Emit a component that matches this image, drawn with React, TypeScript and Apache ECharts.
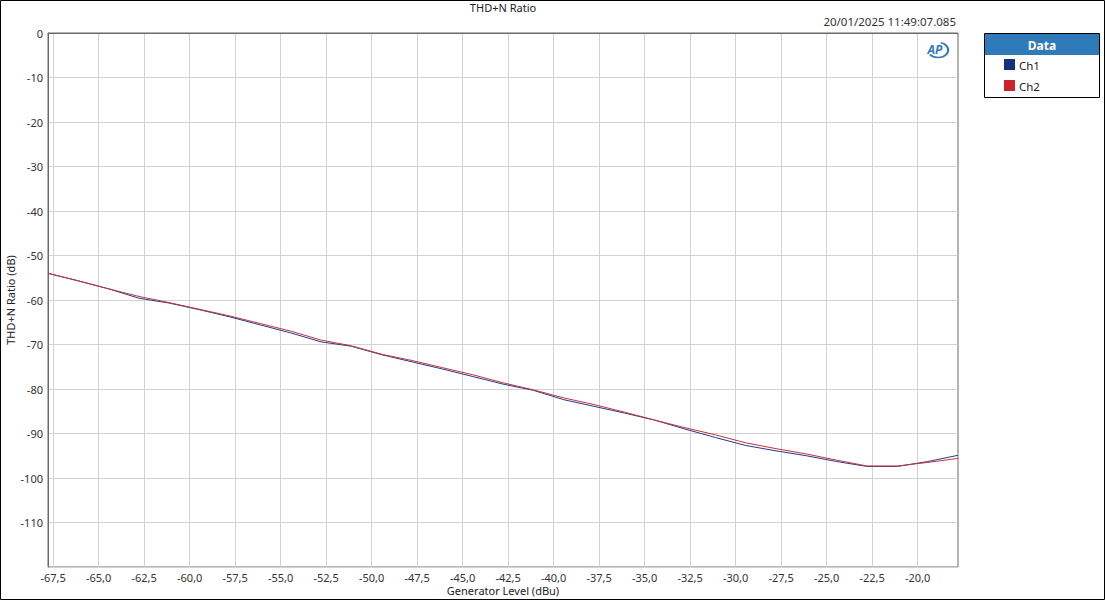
import React, { useEffect, useRef } from "react";
import * as echarts from "echarts";

const generatorLevel = [
  -67.78, -66.11, -64.44, -62.78, -61.11, -59.44, -57.78, -56.11, -54.44, -52.78,
  -51.11, -49.44, -47.78, -46.11, -44.44, -42.78, -41.11, -39.44, -37.78, -36.11,
  -34.44, -32.78, -31.11, -29.44, -27.78, -26.11, -24.44, -22.78, -21.11, -19.44, -17.78,
];
const ch1 = [
  -54.0, -55.7, -57.5, -59.6, -60.7, -62.2, -63.8, -65.6, -67.4, -69.4,
  -70.4, -72.3, -73.9, -75.5, -77.2, -78.9, -80.3, -82.4, -83.9, -85.4,
  -87.0, -89.0, -90.9, -92.7, -93.9, -95.0, -96.3, -97.4, -97.4, -96.3, -94.9,
];
const ch2 = [
  -54.0, -55.7, -57.5, -59.2, -60.6, -62.1, -63.6, -65.3, -67.0, -69.0,
  -70.3, -72.2, -73.6, -75.2, -76.8, -78.6, -80.2, -82.0, -83.5, -85.2,
  -87.0, -88.7, -90.3, -92.1, -93.4, -94.6, -96.0, -97.3, -97.3, -96.5, -95.6,
];
const xTicks = [
  -67.5, -65, -62.5, -60, -57.5, -55, -52.5, -50, -47.5, -45, -42.5, -40,
  -37.5, -35, -32.5, -30, -27.5, -25, -22.5, -20,
];
const seriesNames = ["Ch1", "Ch2"];
const lineColors = ["#203c8a", "#c8323c"];
const legendColors = ["#14307e", "#cc2229"];

const FONT = "'Segoe UI', 'Noto Sans', sans-serif";

export default function App() {
  const ref = useRef<HTMLDivElement>(null);
  useEffect(() => {
    if (!ref.current) return;
    const chart = echarts.init(ref.current, undefined, { renderer: "svg" });
    const toPairs = (ys: number[]) => generatorLevel.map((x, i) => [x, ys[i]]);
    chart.setOption({
      animation: false,
      backgroundColor: "#ffffff",
      grid: {
        left: 48,
        top: 33,
        right: 147,
        bottom: 33,
        show: true,
        borderColor: "#6a6a6a",
        borderWidth: 1,
        containLabel: false,
        outerBoundsMode: "none",
      },
      xAxis: {
        type: "value",
        min: -67.78,
        max: -17.78,
        name: "Generator Level (dBu)",
        nameLocation: "middle",
        nameGap: 17,
        nameMoveOverlap: false,
        nameTextStyle: { fontFamily: FONT, fontSize: 11, lineHeight: 12, color: "#222" },
        axisLine: { show: true, lineStyle: { color: "#6a6a6a", width: 1 } },
        axisTick: { show: false, customValues: xTicks },
        axisLabel: {
          customValues: xTicks,
          fontFamily: FONT,
          fontSize: 11,
          lineHeight: 12,
          color: "#333",
          margin: 4,
          formatter: (v: number) => v.toFixed(1).replace(".", ","),
        },
        splitLine: { show: true, lineStyle: { color: "#d2d2d2", width: 1 } },
      },
      yAxis: {
        type: "value",
        min: -120,
        max: 0,
        interval: 10,
        name: "THD+N Ratio (dB)",
        nameLocation: "middle",
        nameGap: 32,
        nameMoveOverlap: false,
        nameTextStyle: { fontFamily: FONT, fontSize: 11, color: "#222" },
        axisLine: { show: true, lineStyle: { color: "#6a6a6a", width: 1 } },
        axisTick: { show: false },
        axisLabel: {
          fontFamily: FONT,
          fontSize: 11,
          color: "#333",
          margin: 5,
          formatter: (v: number) => (v === -120 ? "" : String(v)),
        },
        splitLine: { show: true, lineStyle: { color: "#d2d2d2", width: 1 } },
      },
      series: seriesNames.map((name, i) => ({
        name,
        type: "line",
        data: toPairs(i === 0 ? ch1 : ch2),
        showSymbol: false,
        symbol: "none",
        lineStyle: { color: lineColors[i], width: 1 },
        itemStyle: { color: lineColors[i] },
      })),
      graphic: [
        {
          type: "rect",
          shape: { x: 0.5, y: 0.5, width: 1104, height: 599 },
          style: { fill: "none", stroke: "#000", lineWidth: 1 },
          silent: true,
        },
        {
          type: "text",
          x: 503,
          y: 7,
          style: {
            text: "THD+N Ratio",
            fontFamily: FONT,
            fontSize: 11,
            fill: "#222",
            textAlign: "center",
            textVerticalAlign: "middle",
          },
        },
        {
          type: "text",
          x: 956,
          y: 21,
          style: {
            text: "20/01/2025 11:49:07.085",
            fontFamily: FONT,
            fontSize: 11.5,
            fill: "#333",
            textAlign: "right",
            textVerticalAlign: "middle",
          },
        },
        {
          type: "arc",
          x: 938,
          y: 50,
          scaleX: 1.35,
          scaleY: 1,
          shape: { cx: 0, cy: 0, r: 7.5, startAngle: -1.3, endAngle: 2.5, clockwise: true },
          style: { fill: "none", stroke: "#2f78c2", lineWidth: 1.6 },
        },
        {
          type: "text",
          x: 935,
          y: 49,
          style: {
            text: "AP",
            fontFamily: FONT,
            fontSize: 12,
            fontWeight: "bold",
            fontStyle: "italic",
            fill: "#2f78c2",
            textAlign: "center",
            textVerticalAlign: "middle",
          },
        },
        {
          type: "rect",
          shape: { x: 984.5, y: 33.5, width: 115, height: 64 },
          style: { fill: "#ffffff", stroke: "#000", lineWidth: 1 },
        },
        {
          type: "rect",
          shape: { x: 985, y: 34, width: 114, height: 21 },
          style: { fill: "#2f7ab8" },
        },
        {
          type: "text",
          x: 1042,
          y: 45,
          style: {
            text: "Data",
            fontFamily: FONT,
            fontSize: 12,
            fontWeight: "bold",
            fill: "#ffffff",
            textAlign: "center",
            textVerticalAlign: "middle",
          },
        },
        ...seriesNames.flatMap((name, i) => [
          {
            type: "rect",
            shape: { x: 1004, y: 59 + i * 21, width: 11, height: 11 },
            style: { fill: legendColors[i] },
          },
          {
            type: "text",
            x: 1019,
            y: 65 + i * 21,
            style: {
              text: name,
              fontFamily: FONT,
              fontSize: 11.5,
              fill: "#222",
              textAlign: "left",
              textVerticalAlign: "middle",
            },
          },
        ]),
      ],
    });
    return () => chart.dispose();
  }, []);
  return (
    <div
      ref={ref}
      style={{ position: "absolute", left: 0, top: 0, width: 1105, height: 600 }}
    />
  );
}
